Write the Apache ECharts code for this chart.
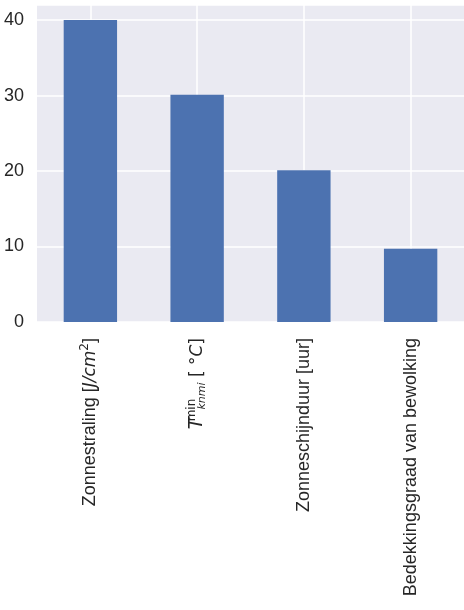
<!DOCTYPE html>
<html>
<head>
<meta charset="utf-8">
<script src="https://cdn.jsdelivr.net/npm/echarts@6/dist/echarts.min.js"></script>
<style>
    html, body { margin: 0; padding: 0; background: #ffffff; }
</style>
</head>
<body>
<div id="chart" style="width: 464px; height: 610px;"></div>
<script>
// data
const categories = ['Zonnestraling', 'Tmin', 'Zonneschijnduur', 'Bedekkingsgraad'];
const values = [40.0, 30.1, 20.1, 9.7];
const yTicks = [0, 10, 20, 30, 40];

// axis label text (with math parts as rich text)
const labelTexts = [
    'Zonnestraling [{mi|J/cm}{sup|2}]',
    '{t|T}{sup2|min}{sub|knmi}{r| [ °}{mi2|C}{r|]}',
    'Zonneschijnduur [uur]',
    'Bedekkingsgraad van bewolking'
];

const myChart = echarts.init(document.getElementById('chart'));

myChart.setOption({
    backgroundColor: '#ffffff',
    animation: false,
    grid: {
        left: 37,
        right: 0,
        top: 5,
        bottom: 288,
        show: true,
        backgroundColor: '#EAEAF2',
        borderWidth: 0
    },
    xAxis: {
        type: 'category',
        data: categories,
        axisLine: { show: false },
        axisTick: { show: false, alignWithLabel: true },
        splitLine: {
            show: true,
            alignWithLabel: true,
            lineStyle: { color: '#ffffff', width: 1.5 }
        },
        axisLabel: {
            rotate: 90,
            margin: 16,
            fontFamily: 'Liberation Sans, Arial, sans-serif',
            fontSize: 18,
            color: '#262626',
            formatter: function (value, index) {
                return labelTexts[index];
            },
            rich: {
                mi: { fontFamily: 'DejaVu Sans', fontStyle: 'italic', fontSize: 17, color: '#262626' },
                sup: { fontFamily: 'DejaVu Sans', fontSize: 12, color: '#262626', verticalAlign: 'top', lineHeight: 24 },
                t: { fontFamily: 'DejaVu Sans', fontStyle: 'italic', fontSize: 19, color: '#262626', lineHeight: 22, padding: [0, 1, 0, 0] },
                sup2: { fontFamily: 'DejaVu Sans', fontSize: 12, color: '#262626', verticalAlign: 'top', lineHeight: 22, width: 1, align: 'left', padding: [0, 0, 0, 6] },
                sub: { fontFamily: 'DejaVu Sans', fontStyle: 'italic', fontSize: 11, color: '#262626', verticalAlign: 'bottom', lineHeight: 22 },
                r: { fontFamily: 'DejaVu Sans', fontSize: 17, color: '#262626' },
                mi2: { fontFamily: 'DejaVu Sans', fontStyle: 'italic', fontSize: 17, color: '#262626' }
            }
        }
    },
    yAxis: {
        type: 'value',
        min: 0,
        max: 42,
        interval: 10,
        axisLine: { show: false },
        axisTick: { show: false },
        splitLine: { lineStyle: { color: '#ffffff', width: 1.5 } },
        axisLabel: {
            margin: 13,
            fontFamily: 'Liberation Sans, Arial, sans-serif',
            fontSize: 18,
            color: '#262626',
            formatter: function (v) {
                return yTicks.indexOf(v) >= 0 ? String(v) : '';
            }
        }
    },
    series: [
        {
            type: 'bar',
            data: values,
            barWidth: '50%',
            itemStyle: { color: '#4C72B0' }
        }
    ]
});
</script>
</body>
</html>
